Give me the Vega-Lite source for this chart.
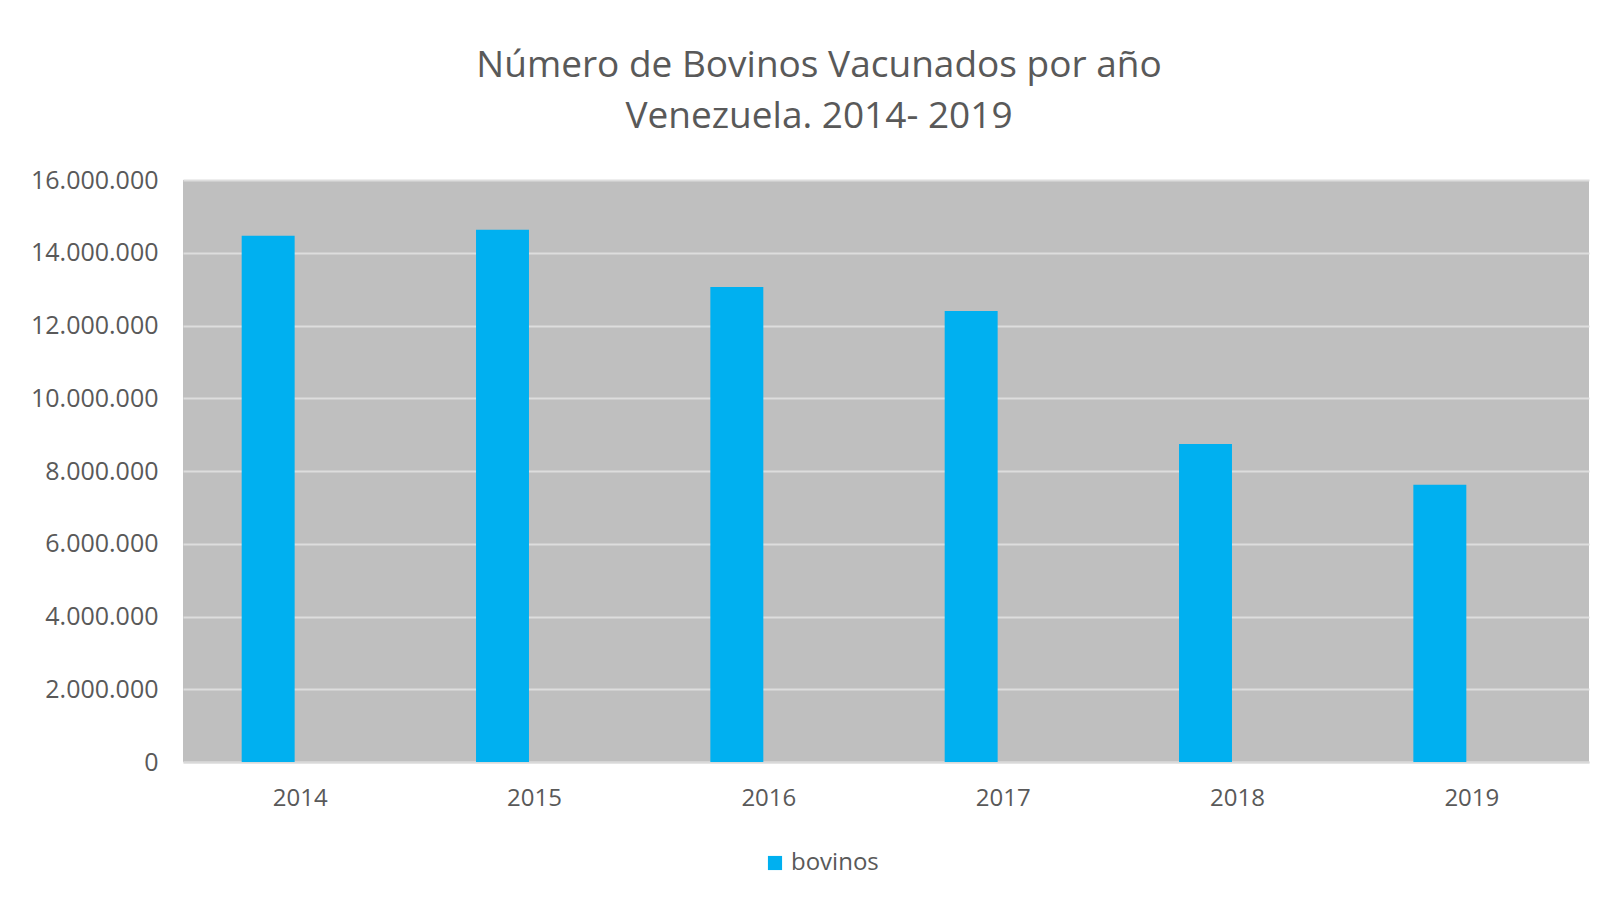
{
  "$schema": "https://vega.github.io/schema/vega-lite/v6.json",
  "autosize": {"type": "none"},
  "width": 1406,
  "height": 582,
  "padding": {"left": 183, "top": 180, "right": 21, "bottom": 141},
  "background": "#FFFFFF",
  "title": {
    "text": ["Número de Bovinos Vacunados por año", "Venezuela. 2014- 2019"],
    "anchor": "middle",
    "frame": "group",
    "dx": -67,
    "offset": 32,
    "font": "Open Sans",
    "fontSize": 37,
    "fontWeight": "normal",
    "color": "#595959",
    "lineHeight": 51
  },
  "data": {
    "values": [
      {"anio": "2014", "bovinos": 14470000},
      {"anio": "2015", "bovinos": 14630000},
      {"anio": "2016", "bovinos": 13060000},
      {"anio": "2017", "bovinos": 12400000},
      {"anio": "2018", "bovinos": 8740000},
      {"anio": "2019", "bovinos": 7620000}
    ]
  },
  "mark": {"type": "bar", "width": {"band": 0.226}, "xOffset": -32},
  "encoding": {
    "x": {
      "field": "anio",
      "type": "nominal",
      "scale": {"paddingInner": 0, "paddingOuter": 0},
      "axis": {
        "title": null,
        "labelAngle": 0,
        "ticks": false,
        "domain": true,
        "domainColor": "#D9D9D9",
        "domainWidth": 2,
        "labelPadding": 24,
        "labelFont": "Open Sans",
        "labelFontSize": 24,
        "labelColor": "#595959"
      }
    },
    "y": {
      "field": "bovinos",
      "type": "quantitative",
      "scale": {"domain": [0, 16000000], "nice": false},
      "axis": {
        "title": null,
        "format": ",d",
        "values": [0, 2000000, 4000000, 6000000, 8000000, 10000000, 12000000, 14000000, 16000000],
        "labelOverlap": false,
        "ticks": false,
        "domain": false,
        "labelPadding": 25,
        "labelFont": "Open Sans",
        "labelFontSize": 25,
        "labelColor": "#595959",
        "grid": true,
        "gridColor": "#DDDDDD",
        "gridWidth": 2
      }
    },
    "color": {
      "datum": "bovinos",
      "type": "nominal",
      "scale": {"range": ["#00B0F0"]},
      "legend": {
        "title": null,
        "orient": "none",
        "legendX": 580,
        "legendY": 671,
        "symbolType": "square",
        "symbolSize": 200,
        "symbolStrokeWidth": 0,
        "labelFont": "Open Sans",
        "labelFontSize": 24,
        "labelColor": "#595959",
        "labelOffset": 4
      }
    }
  },
  "config": {
    "locale": {
      "number": {"decimal": ",", "thousands": ".", "grouping": [3], "currency": ["", ""]}
    },
    "view": {"fill": "#BFBFBF", "stroke": null}
  }
}
